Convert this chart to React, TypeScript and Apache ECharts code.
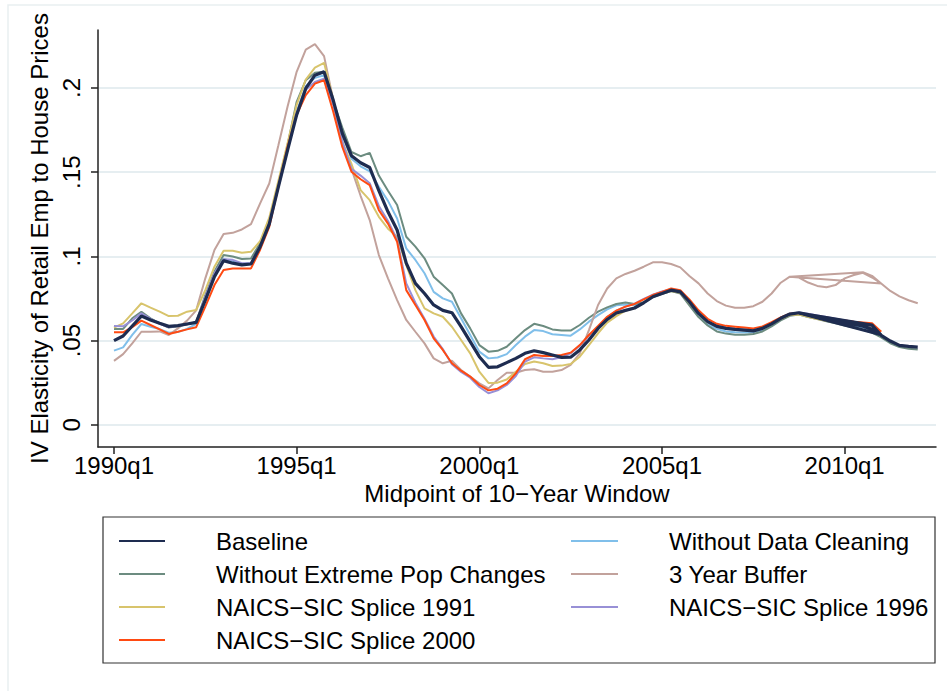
import React, { useEffect, useRef } from "react";
import * as echarts from "echarts";

const FONT = '"Liberation Sans", Arial, Helvetica, sans-serif';

// quarter index 0 = 1990q1
const xTickPositions = [0, 20, 40, 60, 80];
const xTickLabels = ["1990q1", "1995q1", "2000q1", "2005q1", "2010q1"];
const yTickValues = [0, 0.05, 0.1, 0.15, 0.2];
const yTickLabels = ["0", ".05", ".1", ".15", ".2"];

const baseline = [
  0.050, 0.0528, 0.0587, 0.0646, 0.0623, 0.0603, 0.0585, 0.0589, 0.0599, 0.0609,
  0.0741, 0.088, 0.0975, 0.096, 0.095, 0.0955, 0.1058, 0.1192, 0.1413, 0.163,
  0.184, 0.1997, 0.2076, 0.2096, 0.1928, 0.173, 0.1598, 0.1556, 0.1528, 0.139,
  0.1265, 0.1157, 0.096, 0.084, 0.078, 0.0712, 0.068, 0.0666, 0.0583, 0.0494,
  0.0405, 0.0342, 0.0345, 0.037, 0.0395, 0.0425, 0.044, 0.0429, 0.0415, 0.0401,
  0.0402, 0.0445, 0.0504, 0.0573, 0.0626, 0.0664, 0.068, 0.0694, 0.0725, 0.0761,
  0.078, 0.080, 0.079, 0.0731, 0.0662, 0.0613, 0.0585, 0.0573, 0.0567, 0.0563,
  0.0558, 0.0573, 0.060, 0.0633, 0.0658, 0.0666, 0.0655, 0.064, 0.0628, 0.0618,
  0.0608, 0.0598, 0.0586, 0.0568, 0.0535,
];
const baselineTailQ = [75, 83, 84, 85, 86, 87, 88];
const baselineTailV = [0.0664, 0.0592, 0.0532, 0.0498, 0.0472, 0.0466, 0.0462];

const withoutCleaning = [
  0.0441, 0.046, 0.0534, 0.0599, 0.0583, 0.0569, 0.0547, 0.0551, 0.057, 0.060,
  0.076, 0.090, 0.0985, 0.097, 0.0955, 0.0958, 0.106, 0.120, 0.142, 0.164,
  0.186, 0.201, 0.206, 0.2075, 0.192, 0.172, 0.158, 0.1535, 0.1505, 0.1413,
  0.133, 0.1225, 0.1048, 0.0979, 0.090, 0.079, 0.0751, 0.0731, 0.0633, 0.0534,
  0.0435, 0.0395, 0.040, 0.042, 0.0474, 0.0524, 0.0563, 0.0557, 0.0538, 0.0534,
  0.053, 0.0567, 0.0613, 0.0652, 0.0686, 0.071, 0.0715, 0.071, 0.0725, 0.0758,
  0.0778, 0.0795, 0.0785, 0.072, 0.065, 0.0598, 0.057, 0.0555, 0.055, 0.0548,
  0.055, 0.0565, 0.0595, 0.0628, 0.0655, 0.066, 0.065, 0.0635, 0.0622, 0.061,
  0.060, 0.059, 0.058, 0.0565, 0.054,
];

const withoutExtremePop = [
  0.0569, 0.057, 0.0633, 0.0672, 0.0633, 0.0603, 0.0578, 0.0585, 0.0597, 0.061,
  0.0771, 0.091, 0.1008, 0.100, 0.0985, 0.0988, 0.108, 0.121, 0.143, 0.166,
  0.1918, 0.2046, 0.209, 0.2096, 0.192, 0.1765, 0.162, 0.1595, 0.1615, 0.148,
  0.139, 0.1305, 0.1117, 0.1058, 0.0989, 0.088, 0.083, 0.078, 0.0662, 0.0573,
  0.0474, 0.0435, 0.044, 0.0464, 0.0514, 0.0563, 0.060, 0.0587, 0.0567, 0.056,
  0.056, 0.0593, 0.0636, 0.0672, 0.0698, 0.0718, 0.0726, 0.0718, 0.0728, 0.076,
  0.0778, 0.0795, 0.078, 0.071, 0.064, 0.059, 0.0555, 0.0542, 0.0535, 0.0535,
  0.054, 0.0555, 0.0585, 0.062, 0.0648, 0.0655, 0.064, 0.0628, 0.0615, 0.0603,
  0.059, 0.0578, 0.0565, 0.0548, 0.052, 0.0485, 0.0462, 0.0452, 0.0447,
];

const buffer3 = [
  0.038, 0.042, 0.0484, 0.0553, 0.0553, 0.0555, 0.0534, 0.0573, 0.0619, 0.068,
  0.087, 0.1038, 0.1133, 0.114, 0.116, 0.1192, 0.1315, 0.1433, 0.166, 0.1888,
  0.2096, 0.2228, 0.226, 0.2189, 0.193, 0.168, 0.152, 0.136, 0.1216, 0.1008,
  0.087, 0.0741, 0.0623, 0.0553, 0.0484, 0.0395, 0.0366, 0.0381, 0.0326, 0.0287,
  0.0247, 0.0217, 0.0267, 0.031, 0.031, 0.0326, 0.033, 0.0316, 0.0316, 0.0326,
  0.0356, 0.0425, 0.0563, 0.0712, 0.081, 0.087, 0.0896, 0.0915, 0.0939, 0.0965,
  0.0965, 0.0955, 0.0935, 0.0884, 0.084, 0.078, 0.0735, 0.0708, 0.0695, 0.0695,
  0.0705, 0.0731, 0.078, 0.0844, 0.088, 0.0875, 0.0845, 0.0825, 0.0817, 0.083,
  0.087, 0.089, 0.0903, 0.0875, 0.084,
];
const buffer3TailQ = [74, 82, 83, 84, 85, 86, 87, 88];
const buffer3TailV = [0.088, 0.0906, 0.0885, 0.084, 0.0795, 0.0763, 0.074, 0.0722];

const splice1991 = [
  0.0577, 0.0603, 0.0662, 0.0722, 0.0696, 0.0672, 0.0646, 0.0648, 0.0672, 0.0682,
  0.080, 0.0939, 0.1034, 0.1034, 0.1022, 0.1028, 0.109, 0.123, 0.145, 0.167,
  0.190, 0.205, 0.2121, 0.2149, 0.193, 0.168, 0.155, 0.1394, 0.1334, 0.1235,
  0.1165, 0.1117, 0.095, 0.080, 0.0692, 0.0662, 0.0642, 0.0583, 0.0504, 0.0425,
  0.0316, 0.0249, 0.0251, 0.027, 0.0316, 0.0362, 0.0376, 0.0366, 0.035, 0.0352,
  0.0362, 0.0405, 0.0474, 0.0544, 0.0607, 0.0646, 0.0678, 0.0692, 0.0725, 0.076,
  0.0778, 0.0795, 0.0785, 0.0725, 0.066, 0.061, 0.0583, 0.0572, 0.0566, 0.0562,
  0.0558, 0.0572, 0.060, 0.063, 0.0652, 0.0655, 0.0642, 0.0628, 0.0618, 0.061,
  0.0604, 0.0598, 0.059, 0.0578, 0.0555,
];

const splice1996 = [
  0.0587, 0.0585, 0.062, 0.0662, 0.063, 0.060, 0.058, 0.0588, 0.0598, 0.0609,
  0.076, 0.090, 0.0983, 0.098, 0.096, 0.096, 0.106, 0.120, 0.142, 0.164,
  0.185, 0.199, 0.2035, 0.2055, 0.19, 0.168, 0.152, 0.148, 0.1435, 0.130,
  0.121, 0.110, 0.084, 0.0725, 0.063, 0.0525, 0.045, 0.036, 0.0315, 0.028,
  0.0225, 0.0188, 0.0205, 0.0237, 0.029, 0.0376, 0.0401, 0.0395, 0.039, 0.0401,
  0.0425, 0.047, 0.053, 0.0585, 0.064, 0.0678, 0.0702, 0.072, 0.0748, 0.0773,
  0.0792, 0.0805, 0.0795, 0.0735, 0.0665, 0.0615, 0.0588, 0.0577, 0.057, 0.0566,
  0.0562, 0.0577, 0.0603, 0.0636, 0.066, 0.0668, 0.066, 0.065, 0.064, 0.063,
  0.062, 0.0612, 0.0602, 0.0585,
];

const splice2000 = [
  0.055, 0.055, 0.058, 0.0619, 0.0593, 0.0567, 0.054, 0.0553, 0.0567, 0.058,
  0.0702, 0.083, 0.0919, 0.0929, 0.0929, 0.0929, 0.104, 0.1176, 0.1413, 0.165,
  0.184, 0.1957, 0.2026, 0.2046, 0.186, 0.165, 0.1503, 0.1458, 0.1423, 0.1275,
  0.1195, 0.1087, 0.080, 0.0712, 0.0623, 0.0514, 0.0445, 0.0366, 0.0322, 0.0287,
  0.0237, 0.0205, 0.0215, 0.0247, 0.0306, 0.039, 0.0415, 0.0409, 0.0409, 0.0415,
  0.0429, 0.0474, 0.0534, 0.0587, 0.0642, 0.0678, 0.0702, 0.0718, 0.0745, 0.0771,
  0.079, 0.081, 0.080, 0.0745, 0.068, 0.063, 0.060, 0.0588, 0.0583, 0.0578,
  0.0573, 0.0585, 0.061, 0.0638, 0.066, 0.0665, 0.0655, 0.0645, 0.0638, 0.0628,
  0.062, 0.0613, 0.0608, 0.0603, 0.0553,
];

const NAMES = {
  baseline: "Baseline",
  cleaning: "Without Data Cleaning",
  pop: "Without Extreme Pop Changes",
  buffer: "3 Year Buffer",
  s1991: "NAICS\u2212SIC Splice 1991",
  s1996: "NAICS\u2212SIC Splice 1996",
  s2000: "NAICS\u2212SIC Splice 2000",
};

const COLORS = {
  baseline: "#1e2c50",
  cleaning: "#80bfea",
  pop: "#6c8c80",
  buffer: "#c2a29c",
  s1991: "#d8c46c",
  s1996: "#9890d6",
  s2000: "#ff4a12",
};

function toPairs(values: number[]) {
  return values.map((v, i) => [i, v]);
}
function tailPairs(qs: number[], vs: number[]) {
  return qs.map((q, i) => [q, vs[i]]);
}

export default function App() {
  const ref = useRef<HTMLDivElement>(null);
  useEffect(() => {
    if (!ref.current) return;
    const chart = echarts.init(ref.current, null, { renderer: "svg" });
    const textStyle = { fontFamily: FONT, fontSize: 24, color: "#000" };
    const mk = (key: keyof typeof NAMES, data: number[][], width: number, z: number) => ({
      type: "line",
      name: NAMES[key],
      data,
      symbol: "none",
      showSymbol: false,
      silent: true,
      z,
      lineStyle: { color: COLORS[key], width },
      itemStyle: { color: COLORS[key] },
    });
    const legendText = (pad: number) => ({
      ...textStyle,
      lineHeight: 24,
      padding: [0, 0, 0, pad],
    });
    const legendCommon = {
      orient: "vertical",
      top: 524,
      itemHeight: 14,
      itemGap: 9,
      selectedMode: false,
      itemStyle: { opacity: 0 },
      textStyle: legendText(46),
    };
    chart.setOption({
      animation: false,
      backgroundColor: "#ffffff",
      grid: { left: 98, right: 11, top: 30, bottom: 244, containLabel: false },
      xAxis: {
        type: "value",
        min: -1.75,
        max: 90,
        name: "Midpoint of 10\u2212Year Window",
        nameLocation: "middle",
        nameGap: 30,
        nameTextStyle: textStyle,
        axisLine: { show: true, onZero: false, lineStyle: { color: "#222", width: 1.5 } },
        axisTick: {
          show: true,
          customValues: xTickPositions,
          length: 7,
          lineStyle: { color: "#222", width: 1.5 },
        },
        axisLabel: {
          customValues: xTickPositions,
          formatter: (v: number) => {
            const i = xTickPositions.indexOf(Math.round(v));
            return i >= 0 ? xTickLabels[i] : "";
          },
          margin: 6,
          ...textStyle,
        },
        splitLine: { show: false },
      },
      yAxis: {
        type: "value",
        min: -0.0131,
        max: 0.2344,
        name: "IV Elasticity of Retail Emp to House Prices",
        nameLocation: "middle",
        nameRotate: 90,
        nameGap: 44,
        nameTextStyle: textStyle,
        axisLine: { show: true, onZero: false, lineStyle: { color: "#222", width: 1.5 } },
        axisTick: {
          show: true,
          customValues: yTickValues,
          length: 7,
          lineStyle: { color: "#222", width: 1.5 },
        },
        axisLabel: {
          customValues: yTickValues,
          rotate: 90,
          margin: 15,
          formatter: (v: number) => {
            const i = yTickValues.findIndex((t) => Math.abs(t - v) < 1e-9);
            return i >= 0 ? yTickLabels[i] : "";
          },
          ...textStyle,
        },
        splitLine: { show: true, lineStyle: { color: "#e6eef1", width: 2 } },
      },
      legend: [
        {
          ...legendCommon,
          left: 113,
          itemWidth: 46,
          data: [NAMES.baseline, NAMES.pop, NAMES.s1991, NAMES.s2000],
        },
        {
          ...legendCommon,
          left: 565,
          itemWidth: 47,
          data: [NAMES.cleaning, NAMES.buffer, NAMES.s1996],
        },
      ],
      graphic: [
        {
          type: "rect",
          silent: true,
          z: -10,
          shape: { x: 8, y: 5, width: 960, height: 700 },
          style: { fill: "none", stroke: "#e9eff1", lineWidth: 1.5 },
        },
        {
          type: "rect",
          silent: true,
          shape: { x: 103, y: 517, width: 832, height: 146 },
          style: { fill: "none", stroke: "#333", lineWidth: 1.2 },
        },
      ],
      series: [
        mk("cleaning", toPairs(withoutCleaning), 2, 2),
        mk("pop", toPairs(withoutExtremePop), 2, 3),
        mk("buffer", toPairs(buffer3).concat(tailPairs(buffer3TailQ, buffer3TailV)), 2, 4),
        mk("s1991", toPairs(splice1991), 2, 5),
        mk("s1996", toPairs(splice1996), 2, 6),
        mk("s2000", toPairs(splice2000), 2, 7),
        mk("baseline", toPairs(baseline).concat(tailPairs(baselineTailQ, baselineTailV)), 3.2, 8),
      ],
    });
    return () => chart.dispose();
  }, []);
  return (
    <div
      ref={ref}
      style={{ position: "fixed", left: 0, top: 0, width: 947, height: 691, background: "#fff" }}
    />
  );
}
